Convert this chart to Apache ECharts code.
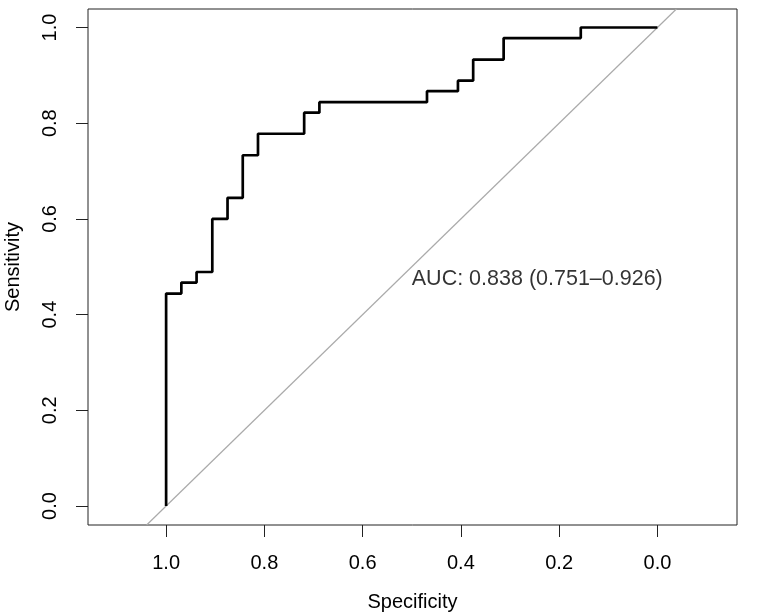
<!DOCTYPE html>
<html>
<head>
<meta charset="utf-8">
<script src="https://cdn.jsdelivr.net/npm/echarts@6/dist/echarts.min.js"></script>
<style>
html,body{margin:0;padding:0;background:#fff;}
#chart{width:773px;height:612px;}
</style>
</head>
<body>
<div id="chart"></div>
<script>
// ROC curve corner points (specificity, sensitivity)
var specificity = [1.000,1.000,0.969,0.969,0.938,0.938,0.906,0.906,0.875,0.875,0.844,0.844,0.813,0.813,0.719,0.719,0.688,0.688,0.469,0.469,0.406,0.406,0.375,0.375,0.313,0.313,0.156,0.156,0.000];
var sensitivity = [0.000,0.444,0.444,0.467,0.467,0.489,0.489,0.600,0.600,0.644,0.644,0.733,0.733,0.778,0.778,0.822,0.822,0.844,0.844,0.867,0.867,0.889,0.889,0.933,0.933,0.978,0.978,1.000,1.000];
var tickValues = [0, 0.2, 0.4, 0.6, 0.8, 1.0];
var aucText = "AUC: 0.838 (0.751\u20130.926)";
var aucPos = [0.5, 0.5];

var xMin = -0.162, xMax = 1.159;
var yMin = -0.0397, yMax = 1.0387;

var rocData = specificity.map(function (s, i) { return [s, sensitivity[i]]; });
// chance diagonal: sensitivity = 1 - specificity, spanning the y range
var diagData = [[1 - yMin, yMin], [1 - yMax, yMax]];

var font = "'Liberation Sans', Arial, sans-serif";
var chart = echarts.init(document.getElementById('chart'));
chart.setOption({
  backgroundColor: '#fff',
  animation: false,
  grid: { left: 88, top: 9, right: 36, bottom: 87, outerBoundsMode: 'none', containLabel: false,
    show: true, borderColor: '#222', borderWidth: 1, backgroundColor: 'transparent' },
  xAxis: {
    type: 'value', inverse: true, min: xMin, max: xMax,
    name: 'Specificity', nameLocation: 'middle', nameGap: 67,
    nameTextStyle: { fontFamily: font, fontSize: 20, color: '#000' },
    axisLine: { show: false, onZero: false },
    splitLine: { show: false },
    axisTick: { show: true, length: 12, lineStyle: { color: '#222', width: 1 }, customValues: tickValues },
    axisLabel: { customValues: tickValues, margin: 28, fontFamily: font, fontSize: 20, color: '#000',
      formatter: function (v) { return v.toFixed(1); } }
  },
  yAxis: {
    type: 'value', min: yMin, max: yMax,
    name: 'Sensitivity', nameLocation: 'middle', nameGap: 65,
    nameTextStyle: { fontFamily: font, fontSize: 20, color: '#000' },
    axisLine: { show: false, onZero: false },
    splitLine: { show: false },
    axisTick: { show: true, length: 12, lineStyle: { color: '#222', width: 1 }, customValues: tickValues },
    axisLabel: { customValues: tickValues, rotate: 90, margin: 28, fontFamily: font, fontSize: 20, color: '#000',
      formatter: function (v) { return v.toFixed(1); } }
  },
  series: [
    {
      type: 'line', data: diagData, symbol: 'none', clip: true,
      lineStyle: { color: '#aaaaaa', width: 1.2 }, z: 1
    },
    {
      type: 'line', data: rocData, symbol: 'none', clip: true,
      lineStyle: { color: '#000', width: 2.7 }, z: 2
    },
    {
      type: 'scatter', data: [aucPos], symbolSize: 0,
      label: { show: true, position: 'inside', align: 'left', verticalAlign: 'top', offset: [0, 1],
        formatter: function () { return aucText; }, fontFamily: font, fontSize: 21.5, color: '#000' },
      z: 3
    }
  ]
});
</script>
</body>
</html>
